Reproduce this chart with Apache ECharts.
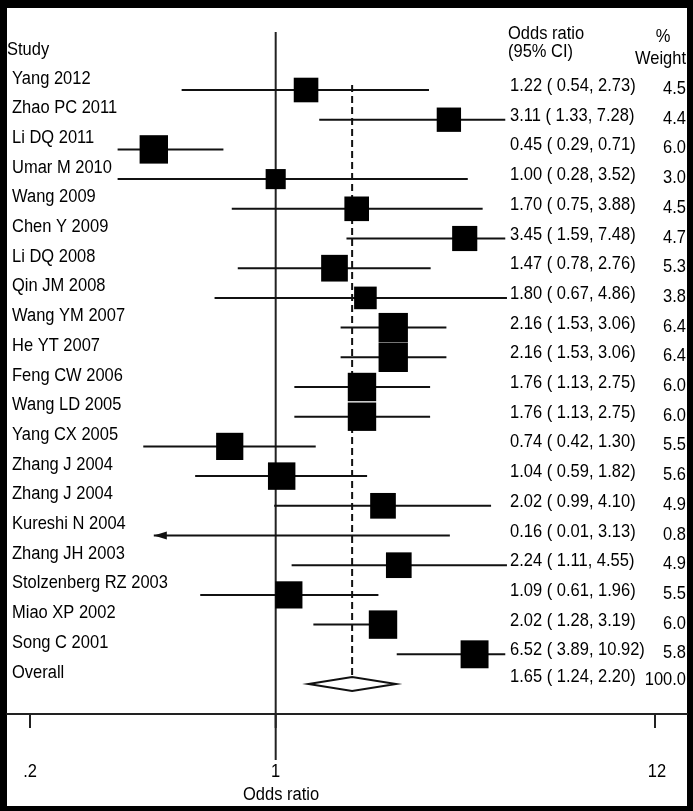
<!DOCTYPE html>
<html>
<head>
<meta charset="utf-8">
<script src="https://cdn.jsdelivr.net/npm/echarts@6/dist/echarts.min.js"></script>
<style>
  html, body { margin: 0; padding: 0; background: #000; }
  #frame { position: absolute; left: 7px; top: 8px; width: 680px; height: 798px; background: #fff; }
  #chart { position: absolute; left: 0; top: 0; width: 693px; height: 811px; }
</style>
</head>
<body>
<div id="frame"></div>
<div id="chart"></div>
<script>
// ---------------- data ----------------
const studies = ['Yang 2012', 'Zhao PC 2011', 'Li DQ 2011', 'Umar M 2010', 'Wang 2009', 'Chen Y 2009',
  'Li DQ 2008', 'Qin JM 2008', 'Wang YM 2007', 'He YT 2007', 'Feng CW 2006', 'Wang LD 2005',
  'Yang CX 2005', 'Zhang J 2004', 'Zhang J 2004', 'Kureshi N 2004', 'Zhang JH 2003',
  'Stolzenberg RZ 2003', 'Miao XP 2002', 'Song C 2001'];
// printed values (text columns)
const orVal   = [1.22, 3.11, 0.45, 1.00, 1.70, 3.45, 1.47, 1.80, 2.16, 2.16, 1.76, 1.76, 0.74, 1.04, 2.02, 0.16, 2.24, 1.09, 2.02, 6.52];
const ciLow   = [0.54, 1.33, 0.29, 0.28, 0.75, 1.59, 0.78, 0.67, 1.53, 1.53, 1.13, 1.13, 0.42, 0.59, 0.99, 0.01, 1.11, 0.61, 1.28, 3.89];
const ciHigh  = [2.73, 7.28, 0.71, 3.52, 3.88, 7.48, 2.76, 4.86, 3.06, 3.06, 2.75, 2.75, 1.30, 1.82, 4.10, 3.13, 4.55, 1.96, 3.19, 10.92];
const weightPct = [4.5, 4.4, 6.0, 3.0, 4.5, 4.7, 5.3, 3.8, 6.4, 6.4, 6.0, 6.0, 5.5, 5.6, 4.9, 0.8, 4.9, 5.5, 6.0, 5.8];
// marks as drawn in the picture (whiskers are cut where the text columns begin)
const drawnOr   = [1.22, 3.11, 0.45, 1.00, 1.70, 3.45, 1.47, 1.80, 2.16, 2.16, 1.76, 1.76, 0.74, 1.04, 2.02, 0.16, 2.24, 1.09, 2.02, 3.68];
const drawnLow  = [0.54, 1.33, 0.355, 0.355, 0.75, 1.59, 0.78, 0.67, 1.53, 1.53, 1.13, 1.13, 0.42, 0.59, 0.99, 0.45, 1.11, 0.61, 1.28, 2.21];
const drawnHigh = [2.73, 4.5, 0.71, 3.52, 3.88, 4.5, 2.76, 4.55, 3.06, 3.06, 2.75, 2.75, 1.30, 1.82, 4.10, 3.13, 4.55, 1.96, 2.21, 4.5];
// overall (pooled) estimate
const overallLabel = 'Overall';
const overallOr = 1.65, overallLow = 1.24, overallHigh = 2.20, overallWeight = 100.0;
// x axis
const tickValues = [0.2, 1, 12];
const tickLabels = ['.2', '1', '12'];
const nullValue = 1;

// ---------------- layout / style ----------------
const X_MIN = 0.172, X_MAX = 14.8;
const Y_MIN = -1.761, Y_MAX = 22.01;
const FONT = '"Liberation Sans", Arial, sans-serif';
const FS = 16.5, SY = 1.12;
const INK = '#000';

function txt(x, y, text, align) {
  return { type: 'text', x: x, y: y, scaleY: SY, silent: true,
    style: { text: text, fill: INK, fontSize: FS, fontFamily: FONT,
      align: align || 'left', verticalAlign: 'middle', textAlign: align || 'left', textVerticalAlign: 'middle' } };
}
function ciText(o, l, h) {
  return o.toFixed(2) + ' ( ' + l.toFixed(2) + ', ' + h.toFixed(2) + ')';
}

const studyData = studies.map((s, i) => [drawnLow[i], drawnHigh[i], drawnOr[i], weightPct[i], i + 1]);

const chart = echarts.init(document.getElementById('chart'), null, { renderer: 'canvas' });
chart.setOption({
  animation: false,
  grid: { left: 7, right: 6, top: 8, bottom: 97 },
  xAxis: {
    type: 'log', min: X_MIN, max: X_MAX,
    axisLine: { show: true, onZero: false, lineStyle: { color: '#222', width: 2 } },
    axisTick: { show: false }, axisLabel: { show: false }, splitLine: { show: false }
  },
  yAxis: {
    type: 'value', inverse: true, min: Y_MIN, max: Y_MAX, show: false
  },
  graphic: [
    txt(7, 50, 'Study'),
    txt(508, 34, 'Odds ratio'),
    txt(508, 52, '(95% CI)'),
    txt(663, 37, '%', 'center'),
    txt(635, 59, 'Weight'),
    txt(281, 795, 'Odds ratio', 'center')
  ],
  series: [
    {
      // study rows: whiskers, weighted squares, texts
      type: 'custom', clip: false, data: studyData,
      renderItem: function (params, api) {
        const i = params.dataIndex;
        const lo = api.value(0), hi = api.value(1), or = api.value(2), w = api.value(3), row = api.value(4);
        const pLo = api.coord([lo, row]);
        const pHi = api.coord([hi, row]);
        const y = pLo[1];
        const ch = [{ type: 'line', shape: { x1: pLo[0], y1: y, x2: pHi[0], y2: y },
          style: { stroke: '#111', lineWidth: 2 } }];
        if (or >= X_MIN) {
          const p = api.coord([or, row]);
          const s = 11.6 * Math.sqrt(w);
          ch.push({ type: 'rect', shape: { x: p[0] - s / 2, y: y - s / 2, width: s, height: s }, style: { fill: INK } });
        } else {
          ch.push({ type: 'polygon', shape: { points: [[pLo[0], y], [pLo[0] + 13, y - 4], [pLo[0] + 13, y + 4]] }, style: { fill: '#111' } });
        }
        ch.push(txt(12, y - 11.5, studies[i]));
        ch.push(txt(510, y - 4, ciText(orVal[i], ciLow[i], ciHigh[i])));
        ch.push(txt(686, y - 1, weightPct[i].toFixed(1), 'right'));
        return { type: 'group', children: ch };
      },
      z: 3
    },
    {
      // null line, pooled diamond and its dashed reference line
      type: 'custom', clip: false, data: [[overallLow, overallHigh, overallOr, studies.length + 1]],
      renderItem: function (params, api) {
        const lo = api.value(0), hi = api.value(1), or = api.value(2), row = api.value(3);
        const pl = api.coord([lo, row]), ph = api.coord([hi, row]), pc = api.coord([or, row]);
        const y = pc[1], hh = 7;
        const nTop = api.coord([nullValue, Y_MIN + 0.81]);
        const nBot = api.coord([nullValue, Y_MAX]);
        const dTop = api.coord([or, 0.83]);
        return { type: 'group', children: [
          { type: 'line', shape: { x1: nTop[0], y1: nTop[1], x2: nBot[0], y2: nBot[1] + 46 }, style: { stroke: '#222', lineWidth: 2 } },
          { type: 'line', shape: { x1: dTop[0], y1: dTop[1], x2: pc[0], y2: y - hh }, style: { stroke: '#111', lineWidth: 2, lineDash: [7, 4] } },
          { type: 'polygon', shape: { points: [[pl[0], y], [pc[0], y - hh], [ph[0], y], [pc[0], y + hh]] },
            style: { fill: '#fff', stroke: '#111', lineWidth: 2 } },
          txt(12, y - 11.5, overallLabel),
          txt(510, y - 7, ciText(overallOr, overallLow, overallHigh)),
          txt(686, y - 4, overallWeight.toFixed(1), 'right')
        ] };
      },
      z: 2
    },
    {
      // x axis ticks and tick labels
      type: 'custom', clip: false, data: tickValues.map((v, i) => [v, i]),
      renderItem: function (params, api) {
        const v = api.value(0);
        const p = api.coord([v, Y_MAX]);
        return { type: 'group', children: [
          { type: 'line', shape: { x1: p[0], y1: p[1], x2: p[0], y2: p[1] + 14 }, style: { stroke: '#222', lineWidth: 2 } },
          txt(p[0] + (v === 12 ? 2 : 0), p[1] + 58, tickLabels[params.dataIndex], 'center')
        ] };
      },
      z: 2
    }
  ]
});
</script>
</body>
</html>
